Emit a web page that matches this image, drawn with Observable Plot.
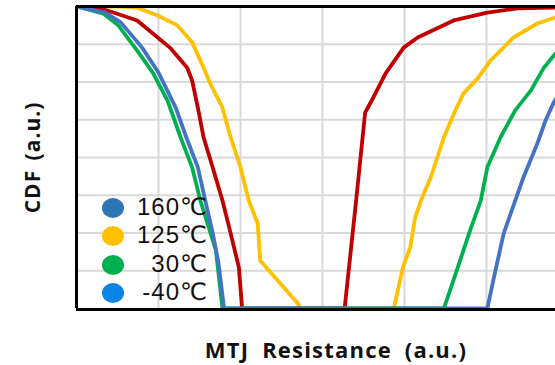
<!DOCTYPE html>
<html>
<head>
<meta charset="utf-8">
<script src="https://cdn.jsdelivr.net/npm/d3@7"></script>
<script src="https://cdn.jsdelivr.net/npm/@observablehq/plot@0.6"></script>
<style>
  html, body { margin: 0; padding: 0; background: #fff; overflow: hidden; }
  #wrap { position: relative; width: 555px; height: 365px; }
  #legend { position: absolute; left: 102px; top: 196px; font-family: "Liberation Sans", "DejaVu Sans", sans-serif; font-size: 24px; letter-spacing: 1px; color: #111; }
  .item { position: relative; height: 28.3px; width: 110px; }
  .sw { position: absolute; left: 0; top: 2px; width: 22px; height: 20px; border-radius: 50%; }
  .lab { position: absolute; right: 4px; top: -1px; line-height: 24px; white-space: nowrap; }
</style>
</head>
<body>
<div id="wrap"><div id="chart"></div><div id="legend"></div></div>
<script>
// Legend entries (as in the original figure)
const legendLabels = ["160℃", "125℃", "30℃", "-40℃"];
const legendColors = ["#2E75B6", "#FFC000", "#00B050", "#0B84E8"];

// Curves: x in grid units of resistance (a.u.), y in grid units of CDF (a.u.)
const yellowX = [0, 0.54, 0.74, 0.99, 1.23, 1.41, 1.55, 1.63, 1.78, 1.88, 2.00, 2.10, 2.21, 2.24, 2.70, 2.73,
                 3.87, 3.98, 4.07, 4.13, 4.20, 4.32, 4.48, 4.62, 4.72, 4.89, 5.05, 5.33, 5.62, 5.84, 6.15, 6.51];
const yellowY = [8, 8, 7.97, 7.76, 7.50, 7.05, 6.38, 5.96, 5.32, 4.53, 3.74, 2.86, 2.25, 1.27, 0.13, 0,
                 0, 1.09, 1.62, 2.41, 2.86, 3.47, 4.53, 5.25, 5.70, 6.09, 6.57, 7.18, 7.55, 7.71, 7.89, 7.97];

const redX = [0, 0.26, 0.45, 0.74, 0.99, 1.15, 1.35, 1.41, 1.48, 1.55, 1.66, 1.78, 1.88, 1.98, 2.02,
              3.27, 3.41, 3.52, 3.62, 3.77, 3.99, 4.16, 4.60, 5.01, 5.38, 5.84, 6.39];
const redY = [8, 7.97, 7.84, 7.63, 7.18, 6.89, 6.38, 6.04, 5.32, 4.53, 3.74, 2.86, 1.99, 1.09, 0,
              0, 2.86, 5.19, 5.59, 6.23, 6.91, 7.18, 7.63, 7.84, 7.95, 7.97, 8];

const greenX = [0, 0.33, 0.51, 0.74, 0.93, 1.11, 1.27, 1.41, 1.51, 1.70, 1.78,
                4.48, 4.65, 4.80, 4.93, 5.01, 5.17, 5.35, 5.54, 5.70, 5.84, 6.09, 6.39];
const greenY = [8, 7.81, 7.50, 6.83, 6.25, 5.51, 4.53, 3.74, 2.86, 1.54, 0,
                0, 1.09, 2.07, 2.86, 3.74, 4.53, 5.25, 5.77, 6.38, 6.75, 7.23, 7.63];

const blueX = [0, 0.35, 0.54, 0.80, 1.00, 1.21, 1.34, 1.48, 1.57, 1.66, 1.73, 1.80,
               5.01, 5.09, 5.21, 5.35, 5.45, 5.62, 5.72, 5.82, 6.02, 6.27, 6.57];
const blueY = [8, 7.84, 7.58, 6.91, 6.25, 5.32, 4.53, 3.74, 2.86, 2.01, 1.22, 0,
               0, 0.82, 1.99, 2.86, 3.47, 4.37, 4.98, 5.46, 6.17, 6.83, 7.36];

const seriesNames = ["yellow", "red", "green", "blue"];
const seriesColors = ["#FFC000", "#C00000", "#00B050", "#4472C4"];
const seriesX = [yellowX, redX, greenX, blueX];
const seriesY = [yellowY, redY, greenY, blueY];

const gridXTicks = [1, 2, 3, 4, 5];
const gridYTicks = [1, 2, 3, 4, 5, 6, 7];

const font = '"Open Sans", "Noto Sans", sans-serif';

const lineMarks = seriesNames.map((name, i) => {
  const rows = seriesX[i].map((x, j) => ({x, y: seriesY[i][j]}));
  return Plot.line(rows, {x: "x", y: "y", stroke: seriesColors[i], strokeWidth: 3.8, clip: true, strokeLinejoin: "round"});
});

const chart = Plot.plot({
  width: 555,
  height: 365,
  marginLeft: 76,
  marginRight: 0,
  marginTop: 6,
  marginBottom: 57,
  x: {domain: [0, 479 / 82], axis: null},
  y: {domain: [0, 8], axis: null},
  style: {background: "#fff", fontFamily: font},
  marks: [
    Plot.gridX(gridXTicks, {stroke: "#d9d9d9", strokeOpacity: 1, strokeWidth: 2}),
    Plot.gridY(gridYTicks, {stroke: "#d9d9d9", strokeOpacity: 1, strokeWidth: 2}),
    ...lineMarks,
    Plot.ruleY([0], {stroke: "#000", strokeWidth: 3, dy: 1}),
    Plot.ruleY([8], {stroke: "#000", strokeWidth: 3}),
    Plot.ruleX([0], {stroke: "#000", strokeWidth: 3}),
    Plot.text(["CDF (a.u.)"], {frameAnchor: "left", rotate: -90, dx: -43, dy: 0, textAnchor: "middle", lineAnchor: "middle",
      fontWeight: "bold", fontSize: 21, fill: "#111", fontFamily: font}),
    Plot.text(["MTJ Resistance (a.u.)"], {frameAnchor: "bottom", dx: 20, dy: 42, textAnchor: "middle", lineAnchor: "middle",
      fontWeight: "bold", fontSize: 22, fill: "#111", fontFamily: font})
  ]
});
// letter / word spacing to match the wide label lettering of the original
d3.select(chart).selectAll("text").each(function() {
  const t = d3.select(this);
  const s = t.text();
  if (s.startsWith("MTJ")) t.style("letter-spacing", "1.2px").style("word-spacing", "6px");
  if (s.startsWith("CDF")) t.style("letter-spacing", "1px").style("word-spacing", "3px");
});
document.getElementById("chart").appendChild(chart);

const legend = document.getElementById("legend");
legendLabels.forEach((t, i) => {
  const item = document.createElement("div");
  item.className = "item";
  const sw = document.createElement("div");
  sw.className = "sw";
  sw.style.background = legendColors[i];
  const lab = document.createElement("div");
  lab.className = "lab";
  lab.textContent = t;
  item.appendChild(sw);
  item.appendChild(lab);
  legend.appendChild(item);
});
</script>
</body>
</html>
